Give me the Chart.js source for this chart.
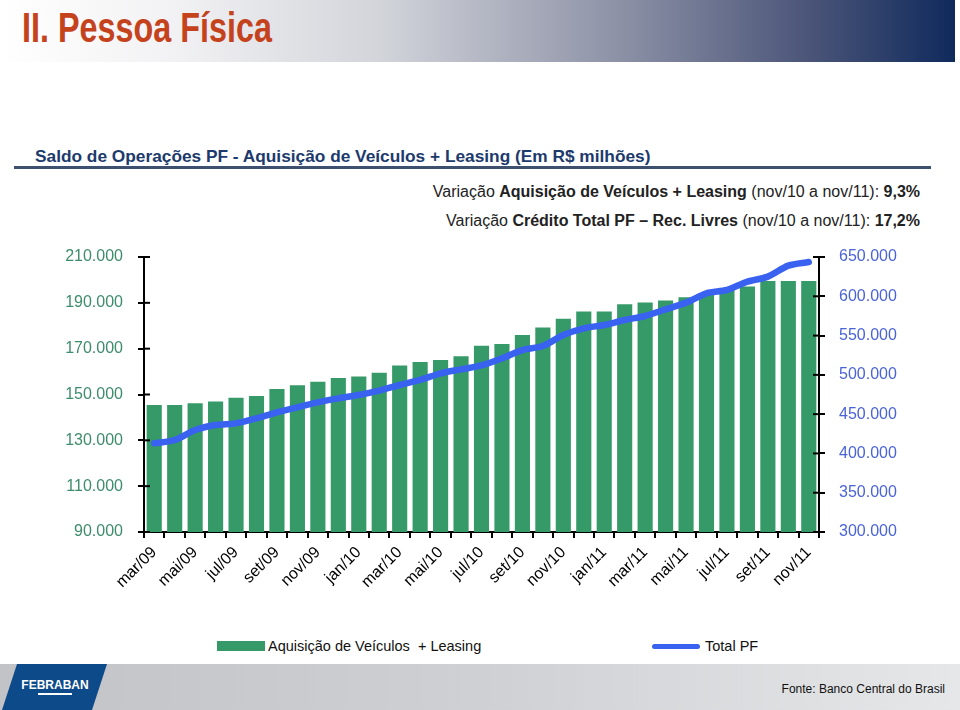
<!DOCTYPE html>
<html>
<head>
<meta charset="utf-8">
<script src="https://cdn.jsdelivr.net/npm/chart.js@4.4.1/dist/chart.umd.min.js"></script>
<style>
  html, body { margin: 0; padding: 0; background: #fff; }
  body { width: 960px; height: 710px; position: relative; overflow: hidden; font-family: "Liberation Sans", Arial, sans-serif; }
  #banner { position: absolute; left: 0; top: 0; width: 955px; height: 62px;
    background: linear-gradient(to right, #ffffff 0%, #f2f2f4 18%, #d2d4da 40%, #8c91a6 65%, #4a5478 85%, #0f2a5c 100%); }
  #title { position: absolute; left: 22px; top: 4px; font-family: "Liberation Sans", sans-serif; font-weight: bold; font-size: 42px; color: #c4421c; transform: scaleX(0.77); transform-origin: left top; white-space: nowrap; }
  #subtitle { position: absolute; left: 35px; top: 146px; font-size: 17.3px; font-weight: bold; color: #1c3a6c; white-space: nowrap; }
  #rule { position: absolute; left: 14px; top: 166px; width: 917px; height: 3px; background: #3d5070; }
  .var { position: absolute; right: 40px; font-size: 16px; color: #222; white-space: nowrap; }
  #var1 { top: 183px; }
  #var2 { top: 212px; }
  #chartWrap { position: absolute; left: 0; top: 230px; width: 960px; height: 390px; }
  .leg { position: absolute; font-size: 14.5px; color: #111; white-space: nowrap; }
  #legBox { position: absolute; left: 217px; top: 641px; width: 48px; height: 10px; background: #359a68; }
  #legLine { position: absolute; left: 652px; top: 644px; width: 48px; height: 5px; background: #3a62f0; border-radius: 3px; }
  #footer { position: absolute; left: 0; top: 664px; width: 960px; height: 46px;
    background: linear-gradient(to right, #c2c3c6 0%, #cfd0d3 50%, #e6e7e9 100%); }
  #fonte { position: absolute; right: 15px; top: 682px; font-size: 12px; color: #111; }
  #logo { position: absolute; left: 0; top: 664px; width: 110px; height: 46px; }
</style>
</head>
<body>
<div id="banner"></div>
<div id="title">II. Pessoa Física</div>
<div id="subtitle">Saldo de Operações PF - Aquisição de Veículos + Leasing (Em R$ milhões)</div>
<div id="rule"></div>
<div class="var" id="var1">Variação <b>Aquisição de Veículos + Leasing</b> (nov/10 a nov/11): <b>9,3%</b></div>
<div class="var" id="var2">Variação <b>Crédito Total PF – Rec. Livres</b> (nov/10 a nov/11): <b>17,2%</b></div>
<div id="chartWrap"><canvas id="c" width="960" height="390"></canvas></div>
<div id="legBox"></div>
<div class="leg" style="left:268px; top:638px;">Aquisição de Veículos &nbsp;+ Leasing</div>
<div id="legLine"></div>
<div class="leg" style="left:705px; top:638px;">Total PF</div>
<div id="footer"></div>
<svg id="logo" width="110" height="46" viewBox="0 0 110 46">
  <polygon points="17,0 107,0 92,46 2,46" fill="#0d4a8a"/>
  <text x="55" y="25" text-anchor="middle" fill="#fff" font-family="Liberation Sans, Arial" font-weight="bold" font-size="12">FEBRABAN</text>
  <rect x="38" y="29" width="34" height="2" fill="#fff"/>
</svg>
<div id="fonte">Fonte: Banco Central do Brasil</div>

<script>
const categories = ["mar/09","abr/09","mai/09","jun/09","jul/09","ago/09","set/09","out/09","nov/09","dez/09",
  "jan/10","fev/10","mar/10","abr/10","mai/10","jun/10","jul/10","ago/10","set/10","out/10","nov/10","dez/10",
  "jan/11","fev/11","mar/11","abr/11","mai/11","jun/11","jul/11","ago/11","set/11","out/11","nov/11"];

const veiculosLeasing = [145400,145400,146200,146900,148600,149300,152400,154000,155600,157200,157900,159500,
  162700,164200,165100,166700,171300,172000,176000,179200,183100,186200,186200,189400,190100,191000,
  192400,193900,195900,197100,199500,199500,199500];

const totalPF = [412900,417100,429800,436200,438300,444700,452300,458700,465000,470100,474400,479900,
  487100,493500,502000,507000,512000,521000,531600,536700,550700,559200,563500,569800,574900,583400,
  591900,603800,608000,618600,625000,639000,643600];

const leftTicks = [90000,110000,130000,150000,170000,190000,210000];
const rightTicks = [300000,350000,400000,450000,500000,550000,600000,650000];

const fmt = v => Math.round(v/1000) + ".000";

const innerTicks = {
  id: 'innerTicks',
  afterDraw(chart) {
    const ctx = chart.ctx;
    ctx.save();
    ctx.strokeStyle = '#000';
    ctx.lineWidth = 2;
    const y = chart.scales.y, y1 = chart.scales.y1;
    leftTicks.forEach(v => {
      const p = y.getPixelForValue(v);
      ctx.beginPath(); ctx.moveTo(y.right, p); ctx.lineTo(y.right + 6, p); ctx.stroke();
    });
    rightTicks.forEach(v => {
      const p = y1.getPixelForValue(v);
      ctx.beginPath(); ctx.moveTo(y1.left - 6, p); ctx.lineTo(y1.left, p); ctx.stroke();
    });
    ctx.restore();
  }
};

new Chart(document.getElementById('c'), {
  data: {
    labels: categories,
    datasets: [
      {
        type: 'line',
        label: 'Total PF',
        data: totalPF,
        yAxisID: 'y1',
        borderColor: '#3a62f0',
        borderWidth: 6.5,
        pointRadius: 0,
        tension: 0.3,
        borderCapStyle: 'round',
        borderJoinStyle: 'round',
        order: 0
      },
      {
        type: 'bar',
        label: 'Aquisição de Veículos + Leasing',
        data: veiculosLeasing,
        yAxisID: 'y',
        backgroundColor: '#359a68',
        barPercentage: 0.74,
        categoryPercentage: 1.0,
        order: 1
      }
    ]
  },
  options: {
    responsive: false,
    animation: false,
    layout: { padding: { top: 27, left: 0, right: 0, bottom: 0 } },
    plugins: { legend: { display: false }, tooltip: { enabled: false } },
    scales: {
      x: {
        offset: true,
        grid: { offset: true, drawOnChartArea: false, drawTicks: true, tickLength: 6, color: '#000', lineWidth: 2 },
        border: { color: '#000', width: 2 },
        ticks: {
          autoSkip: false, minRotation: 45, maxRotation: 45, padding: 5,
          color: '#000', font: { family: 'Liberation Sans', size: 16 },
          callback: (v, i) => (i % 2 === 0 ? categories[i] : '')
        },
        afterFit: s => { s.height = 88; }
      },
      y: {
        position: 'left',
        min: 90000, max: 210000,
        afterBuildTicks: s => { s.ticks = leftTicks.map(v => ({ value: v })); },
        grid: { drawOnChartArea: false, drawTicks: true, tickLength: 6, color: '#000', lineWidth: 2 },
        border: { color: '#000', width: 2 },
        ticks: { color: '#3d8c6c', padding: 15, font: { family: 'Liberation Sans', size: 16 }, callback: v => fmt(v) },
        afterFit: s => { s.width = 144; }
      },
      y1: {
        position: 'right',
        min: 300000, max: 650000,
        afterBuildTicks: s => { s.ticks = rightTicks.map(v => ({ value: v })); },
        grid: { drawOnChartArea: false, drawTicks: true, tickLength: 6, color: '#000', lineWidth: 2 },
        border: { color: '#000', width: 2 },
        ticks: { color: '#4a63d6', padding: 14, font: { family: 'Liberation Sans', size: 16 }, callback: v => fmt(v) },
        afterFit: s => { s.width = 141; }
      }
    }
  },
  plugins: [innerTicks]
});
</script>
</body>
</html>
